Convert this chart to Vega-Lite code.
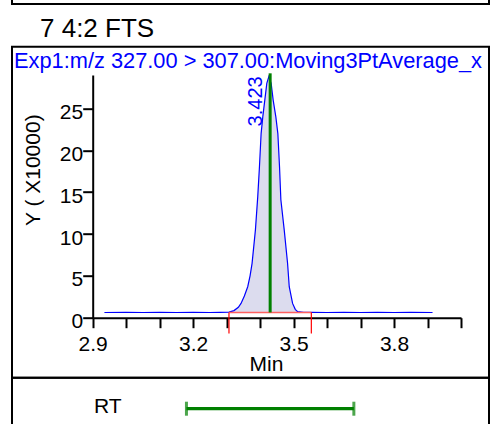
{
  "$schema": "https://vega.github.io/schema/vega-lite/v6.json",
  "padding": {"left": 11, "top": -17, "right": 12, "bottom": -16},
  "spacing": 42.7,
  "bounds": "flush",
  "config": {
    "font": "Liberation Sans",
    "view": {"stroke": "black", "strokeWidth": 2},
    "axis": {"grid": false, "labelColor": "black", "titleColor": "black", "domainColor": "black", "tickColor": "black", "titleFontWeight": "normal"}
  },
  "datasets": {
    "trace": [
      {"t": 2.935, "i": 0.62}, {"t": 3.0, "i": 0.63}, {"t": 3.05, "i": 0.62}, {"t": 3.1, "i": 0.64},
      {"t": 3.15, "i": 0.62}, {"t": 3.2, "i": 0.63}, {"t": 3.25, "i": 0.62}, {"t": 3.28, "i": 0.64},
      {"t": 3.307, "i": 0.66}, {"t": 3.322, "i": 0.85}, {"t": 3.335, "i": 1.25}, {"t": 3.343, "i": 1.71},
      {"t": 3.353, "i": 2.6}, {"t": 3.363, "i": 3.7}, {"t": 3.37, "i": 5.0}, {"t": 3.376, "i": 6.5},
      {"t": 3.386, "i": 10.5}, {"t": 3.393, "i": 14.5}, {"t": 3.398, "i": 18.0}, {"t": 3.403, "i": 22.0},
      {"t": 3.408, "i": 24.0}, {"t": 3.414, "i": 26.0}, {"t": 3.42, "i": 28.0}, {"t": 3.426, "i": 28.8},
      {"t": 3.433, "i": 28.0}, {"t": 3.439, "i": 26.0}, {"t": 3.447, "i": 24.0}, {"t": 3.453, "i": 22.0},
      {"t": 3.458, "i": 18.0}, {"t": 3.462, "i": 14.1}, {"t": 3.472, "i": 10.5}, {"t": 3.482, "i": 6.5},
      {"t": 3.487, "i": 3.7}, {"t": 3.497, "i": 1.71}, {"t": 3.505, "i": 1.0}, {"t": 3.512, "i": 0.72},
      {"t": 3.53, "i": 0.65}, {"t": 3.553, "i": 0.64}, {"t": 3.6, "i": 0.62}, {"t": 3.65, "i": 0.63},
      {"t": 3.7, "i": 0.62}, {"t": 3.75, "i": 0.63}, {"t": 3.8, "i": 0.62}, {"t": 3.85, "i": 0.63},
      {"t": 3.915, "i": 0.62}
    ],
    "integ": [{"start": 3.307, "end": 3.553, "base": 0.63, "low": -1.9}],
    "peak": [{"rt": 3.43, "label": "3.423", "base": 0.63, "top": 29.2}],
    "window": [{"label": "RT", "lo": 3.18, "hi": 3.68}]
  },
  "vconcat": [
    {
      "width": 477,
      "height": 20,
      "title": {"text": "7 4:2 FTS", "orient": "bottom", "anchor": "start", "frame": "group", "offset": 12, "dx": 28, "fontSize": 26, "fontWeight": "normal", "color": "black", "baseline": "top"},
      "data": {"values": [{"note": "", "v": 3.0}]},
      "mark": {"type": "text"},
      "encoding": {
        "x": {"field": "v", "type": "quantitative", "scale": {"domain": [2.9, 4.0]}, "axis": null},
        "text": {"field": "note"}
      }
    },
    {
      "spacing": 0,
      "bounds": "flush",
      "vconcat": [
        {
          "width": 477,
          "height": 331,
          "title": {"text": "Exp1:m/z 327.00 > 307.00:Moving3PtAverage_x", "anchor": "start", "frame": "group", "offset": -26, "dx": 2, "fontSize": 21.8, "fontWeight": "normal", "color": "#0000ff", "baseline": "top"},
          "layer": [
            {
              "data": {"name": "trace"},
              "transform": [{"filter": "datum.t >= 3.307 && datum.t <= 3.553"}],
              "mark": {"type": "area", "color": "#dcdcee", "opacity": 1},
              "encoding": {
                "x": {"field": "t", "type": "quantitative", "scale": {"domain": [2.9, 4.0], "range": [80.7, 449], "nice": false, "zero": false},
                  "axis": {"orient": "bottom", "offset": -60, "values": [2.9, 3.0, 3.1, 3.2, 3.3, 3.4, 3.5, 3.6, 3.7, 3.8, 3.9, 4.0],
                    "labelExpr": "indexof([2.9, 3.2, 3.5, 3.8], round(datum.value * 10) / 10) >= 0 ? format(datum.value, '.1f') : ''",
                    "labelFontSize": 21, "labelPadding": 6, "labelFlush": false, "labelOverlap": false, "labelBound": false,
                    "tickSize": 10, "tickWidth": 2, "domainWidth": 2,
                    "title": "Min", "titleFontSize": 21, "titlePadding": -1, "titleX": 254}},
                "y": {"field": "i", "type": "quantitative", "scale": {"domain": [0, 29], "range": [271, 28.3], "nice": false, "zero": false},
                  "axis": {"orient": "left", "offset": -80.7, "values": [0, 5, 10, 15, 20, 25],
                    "labelFontSize": 21, "labelPadding": 0, "labelOffset": 4, "labelFlush": false, "labelOverlap": false,
                    "tickSize": 10, "tickWidth": 2, "domainWidth": 2,
                    "title": "Y ( X10000)", "titleFontSize": 21, "titlePadding": 16, "titleY": 123}},
                "y2": {"datum": 0.63}
              }
            },
            {
              "data": {"name": "trace"},
              "mark": {"type": "line", "color": "#0000ff", "strokeWidth": 1.2},
              "encoding": {
                "x": {"field": "t", "type": "quantitative"},
                "y": {"field": "i", "type": "quantitative"}
              }
            },
            {
              "data": {"name": "integ"},
              "mark": {"type": "rule", "color": "#ff6060", "strokeWidth": 1.5},
              "encoding": {
                "x": {"field": "start", "type": "quantitative"},
                "x2": {"field": "end"},
                "y": {"field": "base", "type": "quantitative"}
              }
            },
            {
              "data": {"name": "integ"},
              "transform": [{"fold": ["start", "end"], "as": ["edge", "pos"]}],
              "mark": {"type": "rule", "color": "#ff0000", "strokeWidth": 1.2},
              "encoding": {
                "x": {"field": "pos", "type": "quantitative"},
                "y": {"field": "base", "type": "quantitative"},
                "y2": {"field": "low"}
              }
            },
            {
              "data": {"name": "peak"},
              "mark": {"type": "rule", "color": "#008000", "strokeWidth": 3},
              "encoding": {
                "x": {"field": "rt", "type": "quantitative"},
                "y": {"field": "base", "type": "quantitative"},
                "y2": {"field": "top"}
              }
            },
            {
              "data": {"name": "peak"},
              "mark": {"type": "text", "color": "#0000ff", "fontSize": 20, "angle": 270, "align": "right", "baseline": "alphabetic", "dx": -3, "dy": -8},
              "encoding": {
                "x": {"field": "rt", "type": "quantitative"},
                "y": {"field": "top", "type": "quantitative"},
                "text": {"field": "label"}
              }
            }
          ]
        },
        {
          "width": 477,
          "height": 62,
          "data": {"name": "window"},
          "layer": [
            {
              "mark": {"type": "rule", "color": "#008000", "strokeWidth": 3.3},
              "encoding": {
                "x": {"field": "lo", "type": "quantitative", "scale": {"domain": [2.9, 4.0], "range": [80.7, 449], "nice": false, "zero": false}, "axis": null},
                "x2": {"field": "hi"},
                "y": {"field": "label", "type": "nominal", "scale": {"type": "point"},
                  "axis": {"orient": "left", "offset": -109, "domain": false, "ticks": false, "labelPadding": 0, "labelFontSize": 21, "labelOffset": -2, "title": null}}
              }
            },
            {
              "mark": {"type": "tick", "color": "#008000", "thickness": 3, "size": 14, "orient": "vertical"},
              "encoding": {
                "x": {"field": "lo", "type": "quantitative"},
                "y": {"field": "label", "type": "nominal"}
              }
            },
            {
              "mark": {"type": "tick", "color": "#008000", "thickness": 3, "size": 14, "orient": "vertical"},
              "encoding": {
                "x": {"field": "hi", "type": "quantitative"},
                "y": {"field": "label", "type": "nominal"}
              }
            }
          ]
        }
      ]
    }
  ]
}
